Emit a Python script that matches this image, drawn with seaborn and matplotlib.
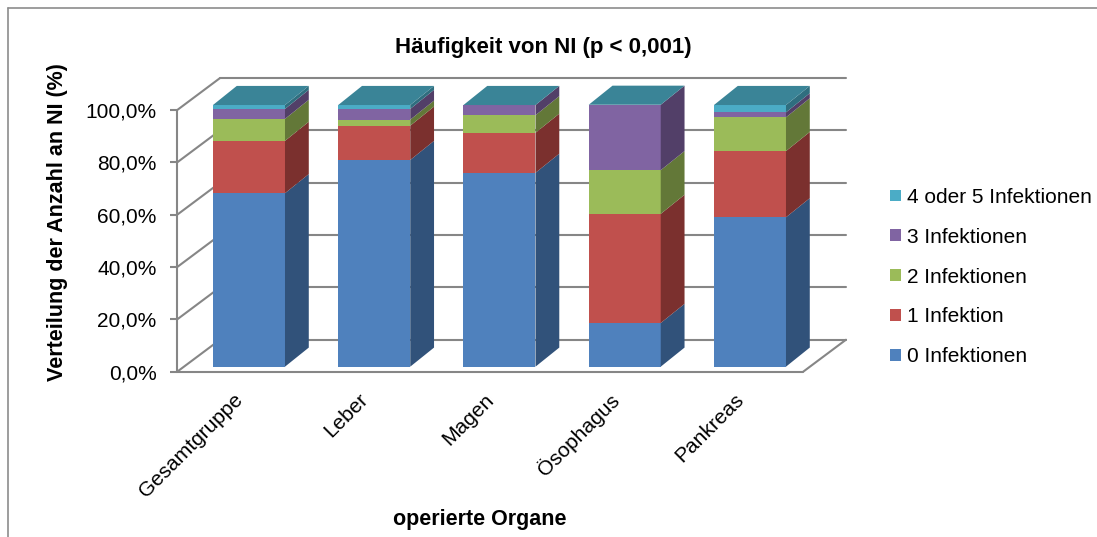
import numpy as np
import matplotlib
matplotlib.use("Agg")
import matplotlib.pyplot as plt
import matplotlib.transforms as mtransforms
from matplotlib.patches import Polygon, Patch
from matplotlib.lines import Line2D
import seaborn as sns

# data (in %)
organe = ["Gesamtgruppe", "Leber", "Magen", "Ösophagus", "Pankreas"]
serien = ["0 Infektionen", "1 Infektion", "2 Infektionen", "3 Infektionen", "4 oder 5 Infektionen"]
inf_0 = [66.3, 79.0, 74.1, 16.7, 57.1]
inf_1 = [20.0, 13.1, 15.3, 41.7, 25.3]
inf_2 = [8.4, 2.3, 6.7, 16.7, 12.9]
inf_3 = [3.8, 4.1, 3.9, 25.0, 1.9]
inf_45 = [1.5, 1.5, 0.0, 0.0, 2.8]
y_ticks = [0, 20, 40, 60, 80, 100]
y_ticklabels = ["0,0%", "20,0%", "40,0%", "60,0%", "80,0%", "100,0%"]

front_cols = ["#4F81BD", "#C0504D", "#9BBB59", "#8064A2", "#4BACC6"]
side_cols = ["#31527A", "#7B302E", "#637838", "#523F68", "#2F6E7F"]
top_col = "#3A8497"
wall_col = "#868686"

sns.set_style("white")
plt.rcParams["font.family"] = ["Liberation Sans", "DejaVu Sans"]
plt.rcParams["text.color"] = "black"
plt.rcParams["axes.labelcolor"] = "black"
plt.rcParams["xtick.color"] = "black"
plt.rcParams["ytick.color"] = "black"

# fake 3d geometry (data units)
DX, DY = 0.19, 7.3          # depth of one bar
OFF_F = -1.9                 # front plane below bar front
XF0, XF1 = -0.5725, 4.4255   # front floor edge
WX, WY = 0.341, 12.2         # depth of the floor
XB0, XB1 = XF0 + WX, XF1 + WX
OFF_B = OFF_F + WY

fig = plt.figure(figsize=(10.97, 5.37), dpi=100)
ax = fig.add_axes([0.1616, 0.3050, 0.6134, 0.5579])
ax.patch.set_visible(False)

werte = np.array([inf_0, inf_1, inf_2, inf_3, inf_45])
cum = np.cumsum(werte, axis=0)
unten = np.vstack([np.zeros(len(organe)), cum[:-1]])

# front faces: draw cumulative totals from the top layer down
for k in reversed(range(len(serien))):
    sns.barplot(x=organe, y=cum[k], color=front_cols[k], width=0.575,
                saturation=1, edgecolor="none", linewidth=0, ax=ax, zorder=3)

bars = ax.containers[0]
for i, rect in enumerate(bars):
    xl = rect.get_x()
    xr = xl + rect.get_width()
    for k in range(len(serien)):
        y0, y1 = unten[k, i], cum[k, i]
        if y1 - y0 <= 0:
            continue
        ax.add_patch(Polygon([(xr, y0), (xr + DX, y0 + DY), (xr + DX, y1 + DY), (xr, y1)],
                             closed=True, facecolor=side_cols[k], edgecolor="none", zorder=3))
    top = cum[-1, i]
    ax.add_patch(Polygon([(xl, top), (xr, top), (xr + DX, top + DY), (xl + DX, top + DY)],
                         closed=True, facecolor=top_col, edgecolor="none", zorder=3))

# walls and floor
lw = 1.5
for v in y_ticks:
    ax.plot([XB0, XB1], [v + OFF_B, v + OFF_B], color=wall_col, lw=lw, zorder=1, clip_on=False)
    ax.plot([XF0, XB0], [v + OFF_F, v + OFF_B], color=wall_col, lw=lw, zorder=1, clip_on=False)
ax.plot([XF0, XF0], [OFF_F, 100 + OFF_F], color=wall_col, lw=lw, zorder=2, clip_on=False)
ax.plot([XF0, XF1], [OFF_F, OFF_F], color=wall_col, lw=lw, zorder=2, clip_on=False)
ax.plot([XF1, XB1], [OFF_F, OFF_B], color=wall_col, lw=lw, zorder=2, clip_on=False)

ax.set_xlim(XF0, 4.8)
ax.set_ylim(-2.5, 112)
sns.despine(ax=ax, left=True, bottom=True)

ax.set_yticks([v + OFF_F for v in y_ticks])
ax.set_yticklabels(y_ticklabels)
ax.tick_params(axis="y", left=True, length=5, width=1.5, color=wall_col, pad=10,
               labelsize=15, labelcolor="black")
ax.tick_params(axis="x", length=0, pad=17, labelsize=15, labelcolor="black")
shift = mtransforms.ScaledTranslation(-9 / 100, 0, fig.dpi_scale_trans)
for lab in ax.get_xticklabels():
    lab.set_rotation(45)
    lab.set_ha("right")
    lab.set_va("center")
    lab.set_rotation_mode("anchor")
    lab.set_transform(lab.get_transform() + shift)

ax.set_xlabel("operierte Organe", fontsize=15.5, fontweight="bold")
ax.xaxis.set_label_coords(0.45, -0.453)
ax.set_ylabel("Verteilung der Anzahl an NI (%)", fontsize=15.5, fontweight="bold")
ax.yaxis.set_label_coords(-0.1625, 0.505)

fig.text(0.4955, 0.912, "Häufigkeit von NI (p < 0,001)", ha="center", va="center",
         fontsize=16, fontweight="bold")

handles = [Patch(facecolor=front_cols[k], edgecolor="none", label=serien[k])
           for k in reversed(range(len(serien)))]
fig.legend(handles=handles, loc="center left", bbox_to_anchor=(0.804, 0.484),
           frameon=False, fontsize=15, handlelength=0.5, handleheight=0.5,
           handletextpad=0.3, labelspacing=1.0, borderaxespad=0)

# chart area border (top and left edges visible)
fig.add_artist(Line2D([0.0076, 0.0076], [0.0, 0.985], color="#8C8C8C", lw=1.2))
fig.add_artist(Line2D([0.0076, 1.0], [0.985, 0.985], color="#8C8C8C", lw=1.2))

fig.savefig("out.png", dpi=100)
